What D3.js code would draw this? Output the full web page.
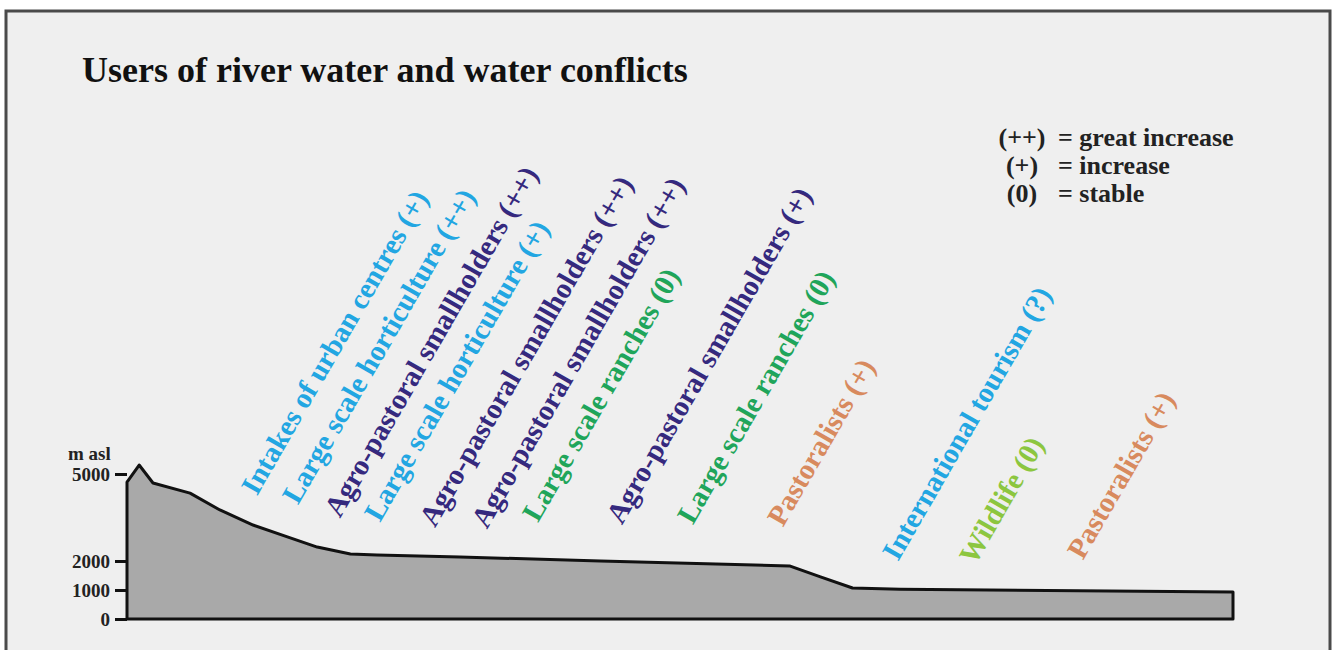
<!DOCTYPE html>
<html>
<head>
<meta charset="utf-8">
<script src="https://cdn.jsdelivr.net/npm/d3@7"></script>
<style>
  body { margin: 0; background: #fff; }
  text { font-family: "Liberation Serif", "Times New Roman", serif; font-weight: bold; }
</style>
</head>
<body>
<svg id="chart" width="1338" height="650"></svg>
<script>
// River profile: distance along the river (relative units) and elevation (m asl)
const distance  = [0, 1.1, 2.35, 5.7, 8.4, 11.4, 14.5, 17.2, 20.2, 22.6, 30.1, 42.8, 59.9, 62.7, 65.6, 69.9, 100];
const elevation = [4720, 5310, 4690, 4340, 3760, 3240, 2830, 2480, 2240, 2210, 2140, 2000, 1830, 1450, 1070, 1030, 930];

// Water users along the river, their trend and the kind of user
const users = [
  "Intakes of urban centres", "Large scale horticulture", "Agro-pastoral smallholders",
  "Large scale horticulture", "Agro-pastoral smallholders", "Agro-pastoral smallholders",
  "Large scale ranches", "Agro-pastoral smallholders", "Large scale ranches",
  "Pastoralists", "International tourism", "Wildlife", "Pastoralists"
];
const trends = ["+", "++", "++", "+", "++", "++", "0", "+", "0", "+", "?", "0", "+"];
const userKind = ["urban", "horticulture", "agro", "horticulture", "agro", "agro",
  "ranch", "agro", "ranch", "pastoral", "tourism", "wildlife", "pastoral"];
const userDistance = [11.75, 15.46, 19.25, 22.87, 27.84, 32.55, 37.16, 44.75, 51.17, 59.31, 69.71, 76.67, 86.43];

const yTicks = [0, 1000, 2000, 5000];
const legendSymbols = ["(++)", "(+)", "(0)"];
const legendMeanings = ["= great increase", "= increase", "= stable"];

const kindColor = {
  urban: "#22a6e2", horticulture: "#22a6e2", tourism: "#22a6e2",
  agro: "#35297e", ranch: "#1fa55a", pastoral: "#d88a5e", wildlife: "#8cc63f"
};
// how far each label sits above the profile (px)
const labelGap = [30, 35, 33, 32, 28, 28, 36, 36, 38, 38, 27, 24, 30];

const svg = d3.select("#chart");

// frame
svg.append("rect").attr("x", 6).attr("y", 11).attr("width", 1324).attr("height", 700)
  .attr("fill", "#efefef").attr("stroke", "#4a4a4a").attr("stroke-width", 3);

svg.append("text").attr("x", 82).attr("y", 82).attr("font-size", 36).attr("fill", "#111")
  .text("Users of river water and water conflicts");

const xScale = d3.scaleLinear().domain([0, 100]).range([127, 1233]);
const yScale = d3.scaleLinear().domain([0, 5000]).range([619, 474]);

const profile = distance.map((d, i) => ({ d, e: elevation[i] }));

const area = d3.area()
  .x(p => xScale(p.d))
  .y0(yScale(0))
  .y1(p => yScale(p.e));

svg.append("path").datum(profile).attr("d", area)
  .attr("fill", "#a9a9a9").attr("stroke", "#111").attr("stroke-width", 3)
  .attr("stroke-linejoin", "round");

// y axis, the domain line is the left edge of the profile
const yAxis = d3.axisLeft(yScale).tickValues(yTicks).tickFormat(d3.format("d")).tickSize(12).tickPadding(5);
const gy = svg.append("g").attr("transform", "translate(127,0)").call(yAxis);
gy.select(".domain").remove();
gy.selectAll(".tick line").attr("stroke", "#111").attr("stroke-width", 3);
gy.selectAll(".tick text").attr("font-size", 19).attr("fill", "#222")
  .style("font-family", "'Liberation Serif', serif").style("font-weight", "bold");

svg.append("text").attr("x", 68).attr("y", 460).attr("font-size", 19).attr("fill", "#222").text("m asl");

// elevation of the profile at a given distance
const bis = d3.bisector(d => d).right;
function elevAt(x) {
  const i = Math.min(Math.max(bis(distance, x), 1), distance.length - 1);
  const t = (x - distance[i - 1]) / (distance[i] - distance[i - 1]);
  return elevation[i - 1] + t * (elevation[i] - elevation[i - 1]);
}

svg.append("g").selectAll("text").data(users).join("text")
  .attr("transform", (u, i) => {
    const x = xScale(userDistance[i]);
    const y = yScale(elevAt(userDistance[i])) - labelGap[i];
    return `translate(${x},${y}) rotate(-60)`;
  })
  .attr("font-size", 29)
  .attr("fill", (u, i) => kindColor[userKind[i]])
  .text((u, i) => `${u} (${trends[i]})`);

// legend
const lg = svg.append("g").attr("font-size", 26).attr("fill", "#222");
lg.selectAll(".sym").data(legendSymbols).join("text").attr("class", "sym")
  .attr("x", 1022).attr("y", (d, i) => 146 + i * 28).attr("text-anchor", "middle").text(d => d);
lg.selectAll(".mean").data(legendMeanings).join("text").attr("class", "mean")
  .attr("x", 1058).attr("y", (d, i) => 146 + i * 28).text(d => d);
</script>
</body>
</html>
